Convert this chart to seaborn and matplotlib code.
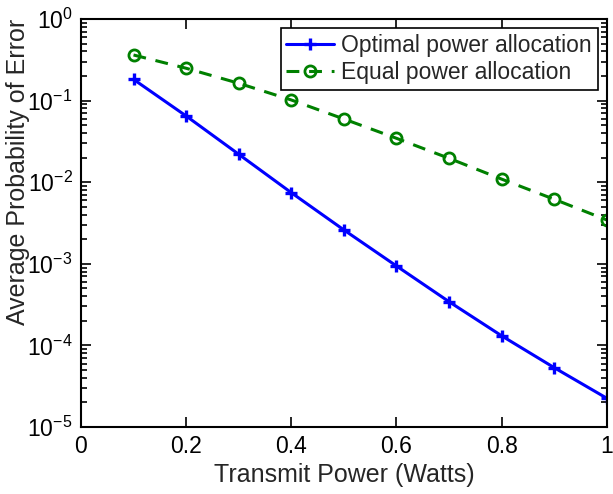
import matplotlib

matplotlib.use("Agg")
import matplotlib.pyplot as plt
import numpy as np
import pandas as pd
import seaborn as sns

# data
power = [0.1, 0.2, 0.3, 0.4, 0.5, 0.6, 0.7, 0.8, 0.9, 1.0]
pe_optimal = [0.182, 0.0648, 0.0220, 0.00744, 0.00260, 9.4e-4, 3.43e-4, 1.31e-4, 5.33e-5, 2.25e-5]
pe_equal = [0.362, 0.249, 0.163, 0.1017, 0.0595, 0.0345, 0.0196, 0.0109, 0.00617, 0.00344]

sns.set_style("ticks")
plt.rcParams["font.family"] = ["Liberation Sans", "DejaVu Sans"]
plt.rcParams["mathtext.fontset"] = "custom"
plt.rcParams["mathtext.rm"] = "Liberation Sans"
plt.rcParams["mathtext.it"] = "Liberation Sans"

df_opt = pd.DataFrame({"power": power, "pe": pe_optimal})
df_eq = pd.DataFrame({"power": power, "pe": pe_equal})

fig = plt.figure(figsize=(6.13, 4.94), dpi=100)
ax = fig.add_axes([0.132, 0.1356, 0.858, 0.826])

blue = "#0000ff"
green = "#008000"
# seaborn paints marker edges white by default, so force the edge colour
sns.lineplot(data=df_opt, x="power", y="pe", ax=ax, color=blue, linewidth=2.2,
             marker="+", markersize=9, markeredgewidth=2.4,
             markeredgecolor=blue, label="Optimal power allocation")
sns.lineplot(data=df_eq, x="power", y="pe", ax=ax, color=green, linewidth=2.2,
             linestyle=(0, (4.2, 3.2)), marker="o", markersize=8,
             markeredgewidth=2, markeredgecolor=green, markerfacecolor="none",
             label="Equal power allocation")

ax.set_yscale("log")
ax.set_xlim(0, 1)
ax.set_ylim(1e-5, 1)
ax.set_xticks([0, 0.2, 0.4, 0.6, 0.8, 1])
ax.set_xticklabels(["0", "0.2", "0.4", "0.6", "0.8", "1"])
ax.set_yticks([1e-5, 1e-4, 1e-3, 1e-2, 1e-1, 1])
ax.set_yticklabels([r"$10^{-5}$", r"$10^{-4}$", r"$10^{-3}$", r"$10^{-2}$", r"$10^{-1}$", r"$10^{0}$"])

ax.set_xlabel("Transmit Power (Watts)", fontsize=18, labelpad=3)
ax.set_ylabel("Average Probability of Error", fontsize=18)
ax.yaxis.set_label_coords(-0.097, 0.625)

for side in ["top", "right", "bottom", "left"]:
    ax.spines[side].set_visible(True)
    ax.spines[side].set_linewidth(1.5)
    ax.spines[side].set_color("black")
ax.tick_params(which="both", direction="in", top=True, right=True, labelsize=16.5,
               colors="black", width=1.2)
ax.tick_params(which="major", length=7, pad=6)
ax.tick_params(which="minor", length=4)
ax.tick_params(axis="x", which="minor", bottom=False, top=False)

leg = ax.legend(loc="upper right", fontsize=16.5, frameon=True, fancybox=False,
                handlelength=2.1, borderpad=0.25, labelspacing=0.2,
                handletextpad=0.3, borderaxespad=0.4)
leg.get_frame().set_edgecolor("black")
leg.get_frame().set_linewidth(1.2)
leg.get_frame().set_alpha(1)

fig.savefig("out.png", dpi=100)
